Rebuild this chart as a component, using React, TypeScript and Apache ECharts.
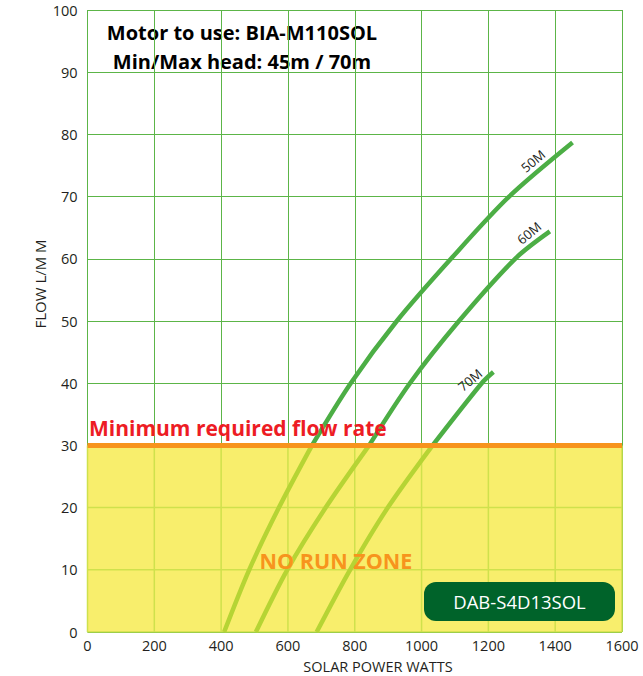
import React, { useEffect, useRef } from "react";
import * as echarts from "echarts";

// Curve data: solar power (W) vs flow (L/min), read at grid crossings
const watts50 = [409, 484, 573, 672, 788, 926, 1088, 1262, 1452];
const flow50 = [0, 10, 20, 30, 40, 50, 60, 70, 78.7];
const watts60 = [504, 598, 713, 843, 965, 1112, 1280, 1384];
const flow60 = [0, 10, 20, 30, 40, 50, 60, 64.4];
const watts70 = [686, 786, 899, 1033, 1180, 1215];
const flow70 = [0, 10, 20, 30, 40, 41.8];
const curveNames = ["50M", "60M", "70M"];

const minFlow = 30;
const xMin = 0;
const xMax = 1600;
const xStep = 200;
const yMin = 0;
const yMax = 100;
const yStep = 10;

const titleLines = ["Motor to use: BIA-M110SOL", "Min/Max head: 45m / 70m"];
const minFlowLabel = "Minimum required flow rate";
const zoneLabel = "NO RUN ZONE";
const modelLabel = "DAB-S4D13SOL";
const xAxisName = "SOLAR POWER WATTS";
const yAxisName = "FLOW L/M M";

const FONT = "'Open Sans', 'Noto Sans', sans-serif";
const GREEN = "#4cae45";
const LIGHT_GREEN = "#b6d434";
const ZONE_YELLOW = "#f8ee6c";
const ZONE_GRID = "#cfe14c";

function pairs(xs: number[], ys: number[]) {
  return xs.map((x, i) => [x, ys[i]]);
}

export default function App() {
  const ref = useRef<HTMLDivElement>(null);
  useEffect(() => {
    if (!ref.current) return;
    const chart = echarts.init(ref.current, null, { renderer: "svg" });
    const curves = [
      pairs(watts50, flow50),
      pairs(watts60, flow60),
      pairs(watts70, flow70),
    ];
    const labelPos = [
      [533, 161],
      [529, 233],
      [470, 380],
    ];
    const curveSeries: any[] = [];
    curves.forEach((d, i) => {
      const below = d.filter((p) => p[1] <= minFlow);
      const above = d.filter((p) => p[1] >= minFlow);
      curveSeries.push({
        type: "line",
        name: curveNames[i] + " low",
        z: 3,
        data: below,
        smooth: 0.3,
        symbol: "none",
        lineStyle: { width: 4.5, color: LIGHT_GREEN },
      });
      curveSeries.push({
        type: "line",
        name: curveNames[i],
        z: 3,
        data: above,
        smooth: 0.3,
        symbol: "none",
        lineStyle: { width: 4.5, color: GREEN },
      });
    });
    // grid lines inside the no-run zone (redrawn over the yellow fill), broken by "-"
    const zoneGrid: any[] = [];
    for (let x = xMin; x <= xMax; x += xStep) {
      zoneGrid.push([x, yMin], [x, minFlow], [x, "-"]);
    }
    for (let y = yMin; y < minFlow; y += yStep) {
      zoneGrid.push([xMin, y], [xMax, y], [xMax, "-"]);
    }
    chart.setOption({
      animation: false,
      grid: { left: 87.5, right: 21, top: 10, bottom: 44, containLabel: false },
      xAxis: {
        type: "value",
        min: xMin,
        max: xMax,
        interval: xStep,
        axisLine: { show: false },
        axisTick: { show: false },
        axisLabel: {
          color: "#231f20",
          fontSize: 14.5,
          fontFamily: FONT,
          margin: 6,
          formatter: (v: number) => String(v),
        },
        splitLine: { show: true, lineStyle: { color: "#5cb548", width: 1 } },
      },
      yAxis: {
        type: "value",
        min: yMin,
        max: yMax,
        interval: yStep,
        axisLine: { show: false },
        axisTick: { show: false },
        axisLabel: {
          color: "#231f20",
          fontSize: 14.5,
          fontFamily: FONT,
          margin: 10,
          formatter: (v: number) => String(v),
        },
        splitLine: { show: true, lineStyle: { color: "#5cb548", width: 1 } },
      },
      series: [
        {
          type: "line",
          z: 1,
          silent: true,
          data: [
            [xMin, minFlow],
            [xMax, minFlow],
          ],
          symbol: "none",
          lineStyle: { opacity: 0 },
          areaStyle: { color: ZONE_YELLOW, opacity: 1, origin: "start" },
        },
        {
          type: "line",
          z: 2,
          silent: true,
          data: zoneGrid,
          connectNulls: false,
          symbol: "none",
          lineStyle: { color: ZONE_GRID, width: 1.5 },
        },
        ...curveSeries,
        {
          type: "line",
          z: 4,
          data: [
            [xMin, minFlow],
            [xMax, minFlow],
          ],
          symbol: "none",
          lineStyle: { color: "#f7941d", width: 5 },
        },
      ],
      graphic: [
        {
          type: "text",
          x: 242,
          y: 32,
          style: {
            text: titleLines[0],
            fill: "#000",
            font: `bold 20px ${FONT}`,
            align: "center",
            verticalAlign: "middle",
          },
        },
        {
          type: "text",
          x: 242,
          y: 61,
          style: {
            text: titleLines[1],
            fill: "#000",
            font: `bold 20px ${FONT}`,
            align: "center",
            verticalAlign: "middle",
          },
        },
        {
          type: "text",
          x: 89,
          y: 428,
          z: 10,
          style: {
            text: minFlowLabel,
            fill: "#ed1c24",
            font: `bold 21px ${FONT}`,
            align: "left",
            verticalAlign: "middle",
          },
        },
        {
          type: "text",
          x: 336,
          y: 560,
          z: 10,
          style: {
            text: zoneLabel,
            fill: "#f7941d",
            font: `bold 21.5px ${FONT}`,
            align: "center",
            verticalAlign: "middle",
          },
        },
        {
          type: "rect",
          z: 10,
          shape: { x: 424, y: 582, width: 191, height: 39, r: 12 },
          style: { fill: "#00632a" },
        },
        {
          type: "text",
          x: 519.5,
          y: 601.5,
          z: 11,
          style: {
            text: modelLabel,
            fill: "#ffffff",
            font: `18.5px ${FONT}`,
            align: "center",
            verticalAlign: "middle",
          },
        },
        ...curveNames.map((n, i) => ({
          type: "text",
          x: labelPos[i][0],
          y: labelPos[i][1],
          rotation: 0.7,
          z: 10,
          style: {
            text: n,
            fill: "#231f20",
            font: `13px ${FONT}`,
            align: "center",
            verticalAlign: "middle",
          },
        })),
        {
          type: "text",
          x: 378,
          y: 666,
          style: {
            text: xAxisName,
            fill: "#231f20",
            font: `14.5px ${FONT}`,
            align: "center",
            verticalAlign: "middle",
          },
        },
        {
          type: "text",
          x: 40,
          y: 284,
          rotation: Math.PI / 2,
          style: {
            text: yAxisName,
            fill: "#231f20",
            font: `15px ${FONT}`,
            align: "center",
            verticalAlign: "middle",
          },
        },
      ],
    });
    return () => chart.dispose();
  }, []);
  return (
    <div
      ref={ref}
      style={{ position: "fixed", left: 0, top: 0, width: 643, height: 676, background: "#fff" }}
    />
  );
}
